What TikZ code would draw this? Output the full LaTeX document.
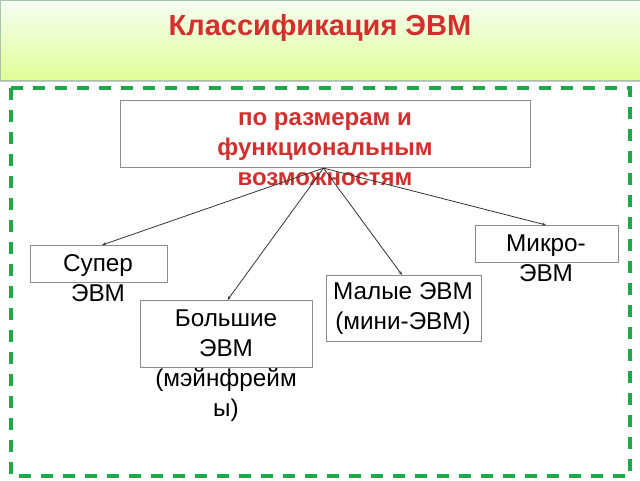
\documentclass[tikz,border=0pt]{standalone}
\usepackage{fontspec}
\setmainfont{Liberation Sans}
\usetikzlibrary{arrows.meta,shadows}
\definecolor{titlered}{HTML}{D22F2F}
\definecolor{framegreen}{HTML}{1FA84A}
\definecolor{boxgrey}{HTML}{8C8C8C}
\tikzset{
  box/.style={draw=boxgrey, line width=1.1pt, fill=white, inner sep=0pt, anchor=north west},
  txt/.style={align=center, inner sep=0pt, font=\fontsize{24.3}{30}\selectfont},
  redtxt/.style={align=center, inner sep=0pt, text=titlered, font=\fontsize{24}{30}\selectfont\bfseries},
  conn/.style={draw=black!80, line width=0.8pt, -{Stealth[length=4pt,width=3pt]}},
}
\begin{document}
\begin{tikzpicture}[x=1pt,y=-1pt]
\useasboundingbox (0,0) rectangle (640,480);
\fill[white] (0,0) rectangle (640,480);
% header
\fill[black!22] (0,2) rectangle (640,82);
\shade[top color=green!4!white, bottom color=green!30!yellow!42!white, draw=green!35!black!35, line width=0.5pt]
  (0,0) rectangle (640,80);
\node[anchor=base, text=titlered, font=\fontsize{29}{34}\selectfont\bfseries, inner sep=0pt] (title) at (320,35) {Классификация ЭВМ};
% dashed frame
\draw[framegreen, line width=3.5pt, dash pattern=on 12pt off 10pt] (11,88) rectangle (630,476);
% boxes
\node[box, minimum width=410pt, minimum height=67pt] (top) at (120,100) {};
\node[box, minimum width=137pt, minimum height=37pt] (super) at (30,245) {};
\node[box, minimum width=172pt, minimum height=67pt] (big) at (140,300) {};
\node[box, minimum width=155pt, minimum height=66pt] (small) at (326,275) {};
\node[box, minimum width=143pt, minimum height=37pt] (micro) at (475,225) {};
% texts
\node[redtxt] (toptxt) at (325,149) {по размерам и\\функциональным\\возможностям};
\node[txt] (supertxt) at (98,278) {Супер\\ЭВМ};
\node[txt] (bigtxt) at (226,366) {Большие\\ЭВМ\\(мэйнфрейм\\ы)};
\node[txt] (smalltxt) at (403,309) {Малые ЭВМ\\(мини-ЭВМ)};
\node[txt] (microtxt) at (546,258) {Микро-\\ЭВМ};
% connectors
\coordinate (hub) at ([xshift=-2pt]top.south);
\draw[conn] (hub) -- ([xshift=3pt]super.north);
\draw[conn] (hub) -- ([xshift=1pt]big.north);
\draw[conn] (hub) -- ([xshift=-2pt]small.north);
\draw[conn] (hub) -- ([xshift=-1pt]micro.north);
\end{tikzpicture}
\end{document}
